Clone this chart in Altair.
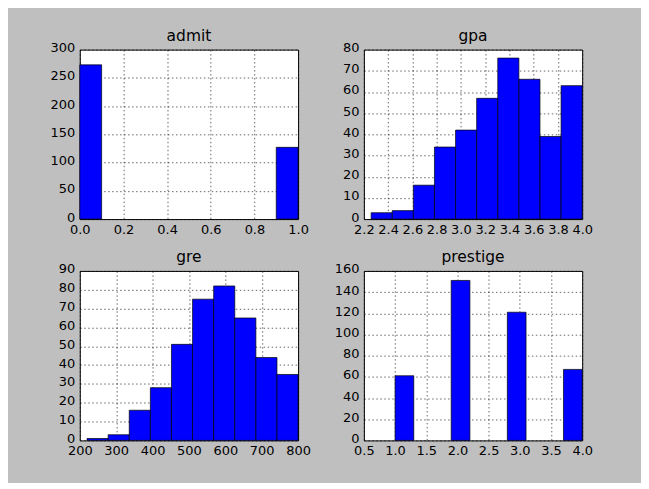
import altair as alt
import pandas as pd

# ---- data ----
admit_edges = [0.0, 0.1, 0.2, 0.3, 0.4, 0.5, 0.6, 0.7, 0.8, 0.9, 1.0]
admit_counts = [273, 0, 0, 0, 0, 0, 0, 0, 0, 127]

gpa_edges = [2.26, 2.434, 2.608, 2.782, 2.956, 3.13, 3.304, 3.478, 3.652, 3.826, 4.0]
gpa_counts = [3, 4, 16, 34, 42, 57, 76, 66, 39, 63]

gre_edges = [220, 278, 336, 394, 452, 510, 568, 626, 684, 742, 800]
gre_counts = [1, 3, 16, 28, 51, 75, 82, 65, 44, 35]

prestige_edges = [1.0, 1.3, 1.6, 1.9, 2.2, 2.5, 2.8, 3.1, 3.4, 3.7, 4.0]
prestige_counts = [61, 0, 0, 151, 0, 0, 121, 0, 0, 67]

admit_xticks = [0.0, 0.2, 0.4, 0.6, 0.8, 1.0]
admit_yticks = [0, 50, 100, 150, 200, 250, 300]
gpa_xticks = [2.2, 2.4, 2.6, 2.8, 3.0, 3.2, 3.4, 3.6, 3.8, 4.0]
gpa_yticks = [0, 10, 20, 30, 40, 50, 60, 70, 80]
gre_xticks = [200, 300, 400, 500, 600, 700, 800]
gre_yticks = [0, 10, 20, 30, 40, 50, 60, 70, 80, 90]
prestige_xticks = [0.5, 1.0, 1.5, 2.0, 2.5, 3.0, 3.5, 4.0]
prestige_yticks = [0, 20, 40, 60, 80, 100, 120, 140, 160]

FONT = "DejaVu Sans"


def panel(title, edges, counts, xticks, xfmt, yticks):
    df = pd.DataFrame({"lo": edges[:-1], "hi": edges[1:], "n": counts})
    df = df[df["n"] > 0]
    return (
        alt.Chart(df, title=alt.Title(title))
        .mark_bar(color="#0000ff", stroke="black", strokeWidth=0.7)
        .encode(
            x=alt.X(
                "lo:Q",
                scale=alt.Scale(domain=[xticks[0], xticks[-1]], nice=False, zero=False),
                axis=alt.Axis(values=xticks, format=xfmt, title=None, labelPadding=4),
            ),
            x2="hi",
            y=alt.Y(
                "n:Q",
                scale=alt.Scale(domain=[yticks[0], yticks[-1]], nice=False),
                axis=alt.Axis(values=yticks, format="d", title=None, labelPadding=5,
                              labelOffset=-2),
            ),
            y2=alt.datum(0),
        )
        .properties(width=219, height=170)
    )


a = panel("admit", admit_edges, admit_counts, admit_xticks, ".1f", admit_yticks)
b = panel("gpa", gpa_edges, gpa_counts, gpa_xticks, ".1f", gpa_yticks)
c = panel("gre", gre_edges, gre_counts, gre_xticks, "d", gre_yticks)
d = panel("prestige", prestige_edges, prestige_counts, prestige_xticks, ".1f", prestige_yticks)

chart = (
    alt.concat(a, b, c, d, columns=2, spacing={"row": 52, "column": 66}, bounds="flush")
    .properties(
        background="#bfbfbf",
        padding={"left": 41, "top": 20, "right": 48, "bottom": 24},
    )
    .configure_view(stroke="black", strokeWidth=1, fill="white")
    .configure_axis(
        labelFont=FONT,
        labelFontSize=13,
        labelColor="black",
        ticks=False,
        domain=False,
        grid=True,
        gridColor="black",
        gridDash=[1.5, 2.5],
        gridWidth=0.6,
        gridOpacity=1,
        labelOverlap=False,
        labelFlush=False,
        labelBound=False,
        zindex=1,
    )
    .configure_title(
        font=FONT,
        fontSize=15.5,
        fontWeight="normal",
        color="black",
        offset=-3,
        anchor="middle",
    )
)

chart.save("out.html", embed_options={"renderer": "svg", "actions": False})
